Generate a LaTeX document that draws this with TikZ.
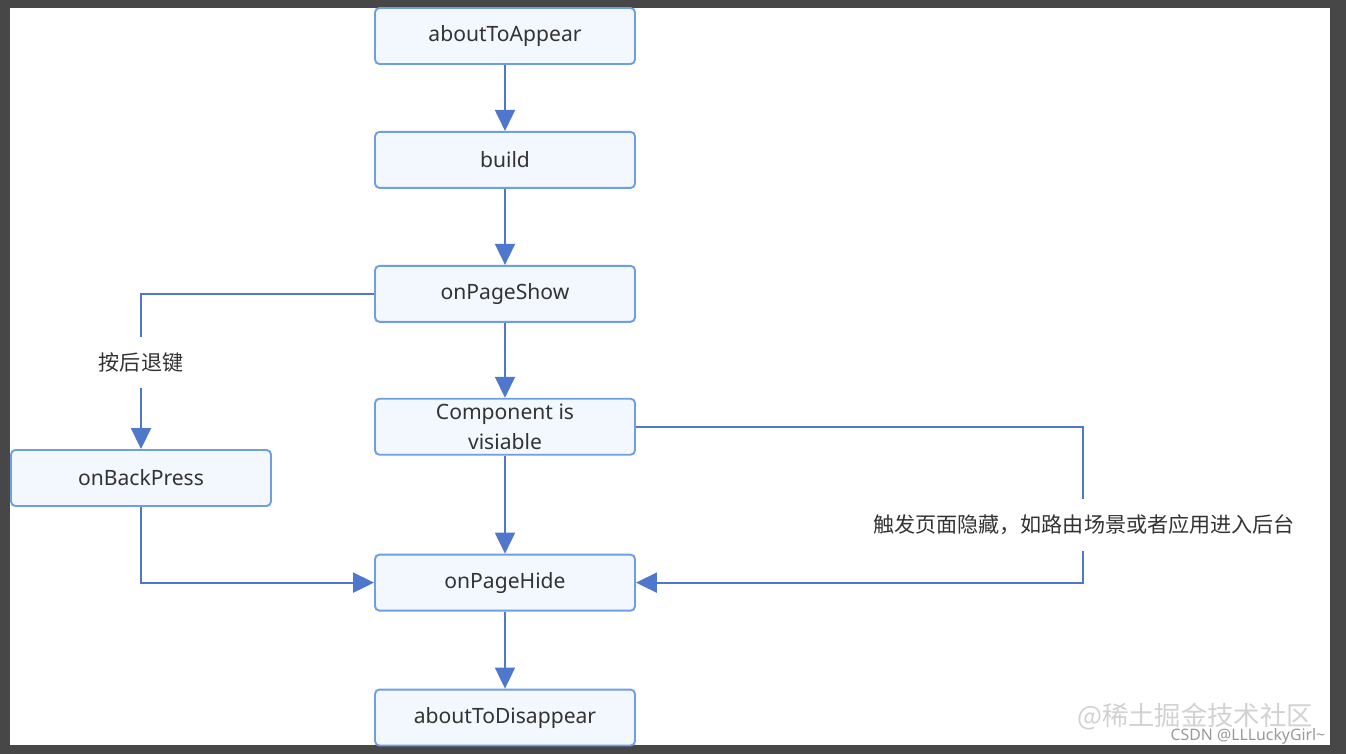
\documentclass[tikz,border=0pt]{standalone}
\usepackage{fontspec}
\setmainfont{Noto Sans}
\newfontfamily\cjk{Noto Sans CJK SC}
\usetikzlibrary{
  positioning,
  arrows.meta
}
\definecolor{boxline}{HTML}{6F9FE3}
\definecolor{boxfill}{HTML}{F3F8FE}
\definecolor{flowline}{HTML}{4F78CC}
\definecolor{textgray}{HTML}{333333}
\definecolor{framegray}{HTML}{474747}
\tikzset{
  x=0.02cm, y=-0.02cm,
  >={Triangle[width=0.4cm,length=0.42cm]},
  stage/.style={draw=boxline, line width=1.1pt, fill=boxfill, rounded corners=2.5pt,
    minimum width=5.2cm, minimum height=1.12cm, align=center, text=textgray,
    font=\fontsize{12}{17.5}\selectfont},
  flow/.style={->, draw=flowline, line width=1.1pt},
  hint/.style={fill=white, text=textgray, font=\cjk\fontsize{12}{14}\selectfont,
    inner xsep=3pt, inner ysep=9pt}
}

\begin{document}
\begin{tikzpicture}
    \fill[framegray] (0,0) rectangle (1346,754);
    \fill[white] (10,8) rectangle (1330,745);
    \node[stage] (appear) at (505,36) {aboutToAppear};
    \node[stage, below=1.32cm of appear] (build) {build};
    \node[stage, below=1.52cm of build] (show) {onPageShow};
    \node[stage, below=1.5cm of show, inner ysep=1pt] (comp) {Component is\\visiable};
    \node[stage, below=1.96cm of comp] (hide) {onPageHide};
    \node[stage, below=1.54cm of hide] (disappear) {aboutToDisappear};
    \node[stage] (back) at (141,478) {onBackPress};
    \coordinate (rside) at (1083,500);
    \draw[flow] (appear) -- (build);
    \draw[flow] (build) -- (show);
    \draw[flow] (show) -- (comp);
    \draw[flow] (comp) -- (hide);
    \draw[flow] (hide) -- (disappear);
    \draw[flow] (show.west) -| node[hint, pos=0.72] {按后退键} (back.north);
    \draw[flow] (back.south) |- (hide.west);
    \draw[flow] (comp.east) -| (rside) |- (hide.east);
    \node[hint] (hidenote) at (1084,525) {触发页面隐藏，如路由场景或者应用进入后台};
    \node[font=\cjk\fontsize{15}{15}\selectfont, text=gray!35] (juejin) at (1195,717) {@稀土掘金技术社区};
    \node[font=\fontsize{9}{9}\selectfont, text=gray!80, inner sep=1pt] (csdn) at (1248,736) {CSDN @LLLuckyGirl\textasciitilde};
\end{tikzpicture}
\end{document}
